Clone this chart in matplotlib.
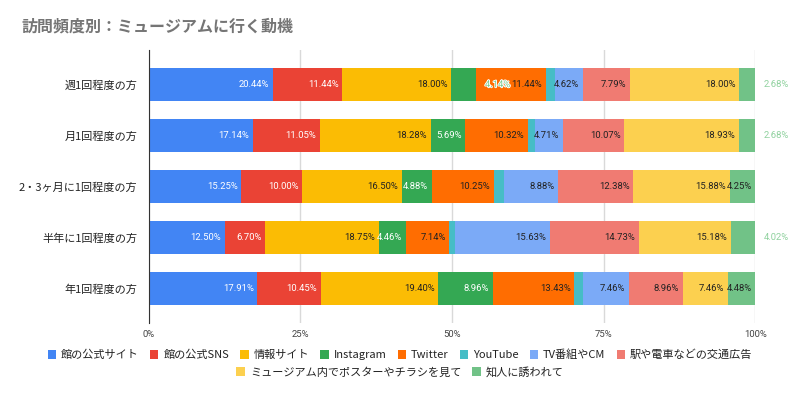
import numpy as np
import matplotlib
matplotlib.use("Agg")
import matplotlib.pyplot as plt
import matplotlib.patheffects as pe
from matplotlib.patches import Patch

plt.rcParams['font.family'] = ['Noto Sans CJK JP', 'DejaVu Sans']

title = "訪問頻度別：ミュージアムに行く動機"

groups = ["週1回程度の方", "月1回程度の方", "2・3ヶ月に1回程度の方",
          "半年に1回程度の方", "年1回程度の方"]

series = ["館の公式サイト", "館の公式SNS", "情報サイト", "Instagram", "Twitter",
          "YouTube", "TV番組やCM", "駅や電車などの交通広告",
          "ミュージアム内でポスターやチラシを見て", "知人に誘われて"]

# one list per series, values per group (top to bottom)
official_site = [20.44, 17.14, 15.25, 12.50, 17.91]
official_sns = [11.44, 11.05, 10.00, 6.70, 10.45]
info_site = [18.00, 18.28, 16.50, 18.75, 19.40]
instagram = [4.14, 5.69, 4.88, 4.46, 8.96]
twitter = [11.44, 10.32, 10.25, 7.14, 13.43]
youtube = [1.45, 1.13, 1.75, 0.89, 1.49]
tv_cm = [4.62, 4.71, 8.88, 15.63, 7.46]
station_ads = [7.79, 10.07, 12.38, 14.73, 8.96]
poster_flyer = [18.00, 18.93, 15.88, 15.18, 7.46]
friends = [2.68, 2.68, 4.25, 4.02, 4.48]

values = [official_site, official_sns, info_site, instagram, twitter,
          youtube, tv_cm, station_ads, poster_flyer, friends]

colors = ["#4285f4", "#ea4335", "#fbbc04", "#34a853", "#ff6d01",
          "#46bdc6", "#7baaf7", "#f07b72", "#fcd04f", "#71c287"]
text_colors = ["white", "white", "#222222", "white", "#222222",
               "#222222", "#222222", "#222222", "#222222", "#222222"]
outside_colors = ["#4285f4", "#ea4335", "#fbbc04", "#7cc98f", "#ff6d01",
                  "#46bdc6", "#7baaf7", "#f07b72", "#fcd04f", "#8fd19e"]

num_font = ["Roboto", "DejaVu Sans"]

fig = plt.figure(figsize=(8, 3.95), dpi=100)
ax = fig.add_axes([0.1859, 0.1823, 0.7583, 0.6911])

y = np.arange(len(groups))
left = np.zeros(len(groups))
for i, (name, vals) in enumerate(zip(series, values)):
    vals = np.array(vals)
    ax.barh(y, vals, left=left, height=0.65, color=colors[i], label=name, zorder=2)
    for j, v in enumerate(vals):
        end = left[j] + v
        label = f"{v:.2f}%"
        if v >= 4.2:
            ax.text(end - 0.6, y[j], label, ha="right", va="center",
                    fontsize=6.8, family=num_font,
                    color=text_colors[i], zorder=3)
        elif v >= 2:
            t = ax.text(end + 1.4, y[j], label, ha="left", va="center",
                        fontsize=6.8, family=num_font,
                        color=outside_colors[i], zorder=4)
            if end < 99:
                t.set_path_effects([pe.withStroke(linewidth=1.3, foreground="white")])
    left += vals

ax.set_xlim(0, 100)
ax.set_ylim(len(groups) - 1 + 0.67, -0.68)
ax.set_xticks([0, 25, 50, 75, 100])
ax.set_xticklabels(["0%", "25%", "50%", "75%", "100%"],
                   family=num_font, fontsize=6.8, color="#444444")
ax.set_yticks(y)
ax.set_yticklabels(groups, fontsize=8, color="#222222")
ax.tick_params(axis="both", length=0, pad=8)
ax.tick_params(axis="x", pad=5)

for sp in ["top", "right", "bottom"]:
    ax.spines[sp].set_visible(False)
ax.spines["left"].set_color("#333333")
ax.spines["left"].set_zorder(5)
ax.xaxis.grid(True, color="#d9d9d9", linewidth=1, zorder=0)
ax.set_axisbelow(True)

fig.text(22 / 800, 1 - 27 / 395, title, fontsize=11.5, fontweight="bold",
         color="#757575", ha="left", va="center")

handles = [Patch(facecolor=c, edgecolor="none") for c in colors]
leg_kw = dict(frameon=False, fontsize=8, handlelength=0.75, handleheight=0.75,
              handletextpad=0.45, columnspacing=1.0, borderpad=0, borderaxespad=0)
leg1 = fig.legend(handles[:8], series[:8], ncol=8, loc="center",
                  bbox_to_anchor=(0.5, 1 - 355 / 395), **leg_kw)
leg2 = fig.legend(handles[8:], series[8:], ncol=2, loc="center",
                  bbox_to_anchor=(0.5, 1 - 372 / 395), **leg_kw)
for leg in (leg1, leg2):
    for t in leg.get_texts():
        t.set_color("#222222")

fig.savefig("out.png", dpi=100)
